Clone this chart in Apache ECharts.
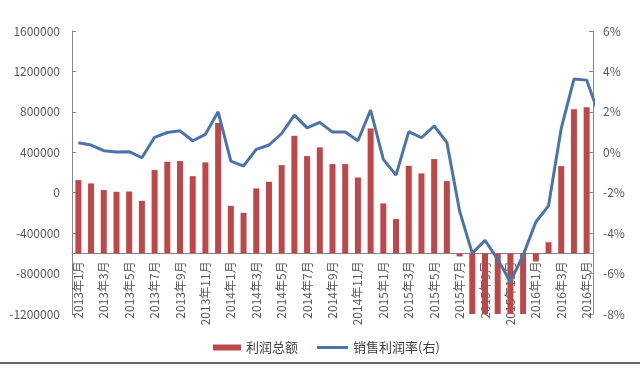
<!DOCTYPE html>
<html>
<head>
<meta charset="utf-8">
<script src="https://cdn.jsdelivr.net/npm/echarts@6/dist/echarts.min.js"></script>
<style>
html,body{margin:0;padding:0;background:#fff;}
#chart{width:640px;height:372px;}
</style>
</head>
<body>
<div id="chart"></div>
<script>
const categories = [
  '2013年1月','2013年2月','2013年3月','2013年4月','2013年5月','2013年6月','2013年7月','2013年8月','2013年9月','2013年10月','2013年11月','2013年12月',
  '2014年1月','2014年2月','2014年3月','2014年4月','2014年5月','2014年6月','2014年7月','2014年8月','2014年9月','2014年10月','2014年11月','2014年12月',
  '2015年1月','2015年2月','2015年3月','2015年4月','2015年5月','2015年6月','2015年7月','2015年8月','2015年9月','2015年10月','2015年11月','2015年12月',
  '2016年1月','2016年2月','2016年3月','2016年4月','2016年5月','2016年6月'
];
const profitTotal = [
  125000, 92000, 26000, 9000, 12000, -80000, 224000, 306000, 313000, 164000, 300000, 690000,
  -130000, -199000, 43000, 108000, 273000, 563000, 362000, 448000, 283000, 283000, 151000, 636000,
  -106000, -261000, 266000, 191000, 333000, 115000, -630000, -1200000, -1200000, -1200000, -1200000, -1200000,
  -680000, -490000, 263000, 825000, 845000, null
];
const salesMargin = [
  0.47, 0.36, 0.08, 0.01, 0.03, -0.27, 0.74, 0.98, 1.06, 0.57, 0.89, 2.0,
  -0.44, -0.68, 0.14, 0.36, 0.93, 1.84, 1.21, 1.48, 1.0, 1.0, 0.57, 2.09,
  -0.35, -1.13, 1.02, 0.72, 1.3, 0.49, -2.9, -5.0, -4.35, -5.3, -6.4, -5.1,
  -3.45, -2.65, 1.18, 3.62, 3.57, 1.8
];
const leftAxis = {min: -1200000, max: 1600000, interval: 400000, base: -600000};
const rightAxis = {min: -8, max: 6, interval: 2};
const seriesNames = ['利润总额', '销售利润率(右)'];

const gridTop = 31, gridBottom = 58;
const gridH = 372 - gridTop - gridBottom;
const xOffset = -gridH * (leftAxis.base - leftAxis.min) / (leftAxis.max - leftAxis.min);

const font = '"Noto Sans CJK SC", "Noto Sans", sans-serif';
const axisColor = '#868686';
const labelColor = '#595959';
const barColor = '#bd4749';
const lineColor = '#4a74aa';
const legendText = {fontSize: 13, color: '#404040', fontFamily: font};

const chart = echarts.init(document.getElementById('chart'));
chart.setOption({
  animation: false,
  backgroundColor: '#fff',
  textStyle: {fontFamily: font},
  grid: {left: 72, right: 47, top: gridTop, bottom: gridBottom, containLabel: false},
  legend: [
    {
      left: 208, top: 336, icon: 'rect',
      itemWidth: 28, itemHeight: 6, itemGap: 5,
      textStyle: legendText,
      data: [seriesNames[0]]
    },
    {
      left: 312, top: 336, icon: 'rect',
      itemWidth: 31, itemHeight: 3, itemGap: 5,
      textStyle: legendText,
      data: [seriesNames[1]]
    }
  ],
  xAxis: {
    type: 'category',
    data: categories,
    max: 40,
    boundaryGap: true,
    offset: xOffset,
    axisLine: {onZero: false, lineStyle: {color: axisColor, width: 1}},
    axisTick: {interval: 1, inside: true, length: 4, lineStyle: {color: axisColor}},
    axisLabel: {interval: 1, rotate: 90, margin: 8, fontSize: 12, color: labelColor, fontFamily: font},
    splitLine: {show: false}
  },
  yAxis: [
    {
      type: 'value', position: 'left',
      min: leftAxis.min, max: leftAxis.max, interval: leftAxis.interval,
      startValue: leftAxis.base,
      axisLine: {show: true, lineStyle: {color: axisColor}},
      axisTick: {show: true, inside: true, length: 4, lineStyle: {color: axisColor}},
      axisLabel: {fontSize: 12, color: labelColor, margin: 12, fontFamily: font, formatter: function (v) { return String(v); }},
      splitLine: {show: false}
    },
    {
      type: 'value', position: 'right',
      min: rightAxis.min, max: rightAxis.max, interval: rightAxis.interval,
      axisLine: {show: true, lineStyle: {color: axisColor}},
      axisTick: {show: true, inside: true, length: 4, lineStyle: {color: axisColor}},
      axisLabel: {fontSize: 12, color: labelColor, margin: 10, formatter: '{value}%', fontFamily: font},
      splitLine: {show: false}
    }
  ],
  series: [
    {
      name: seriesNames[0], type: 'bar', yAxisIndex: 0,
      data: profitTotal, barWidth: 6,
      itemStyle: {color: barColor}
    },
    {
      name: seriesNames[1], type: 'line', yAxisIndex: 1,
      data: salesMargin, symbol: 'none', smooth: false, clip: true,
      lineStyle: {color: lineColor, width: 3},
      itemStyle: {color: lineColor}
    }
  ],
  graphic: [
    {type: 'line', shape: {x1: 0, y1: 363, x2: 640, y2: 363}, style: {stroke: '#666', lineWidth: 2}}
  ]
});
</script>
</body>
</html>
